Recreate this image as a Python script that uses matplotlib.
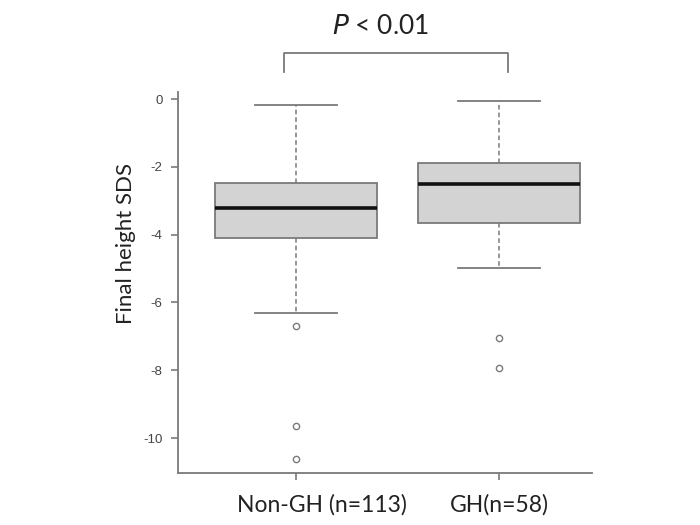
import matplotlib
matplotlib.use("Agg")
import matplotlib.pyplot as plt
from matplotlib.lines import Line2D
from matplotlib.transforms import ScaledTranslation

plt.rcParams['font.family'] = ['Lato', 'DejaVu Sans']

categories = ["Non-GH (n=113)", "GH(n=58)"]
whisker_low = [-6.3, -4.99]
q1 = [-4.11, -3.64]
median = [-3.2, -2.49]
q3 = [-2.48, -1.88]
whisker_high = [-0.18, -0.07]
outliers = [[-6.7, -9.63, -10.62], [-7.04, -7.92]]
yticks = [0, -2, -4, -6, -8, -10]
p_text = " < 0.01"

stats = []
for i, lab in enumerate(categories):
    stats.append(dict(label=lab, whislo=whisker_low[i], q1=q1[i], med=median[i],
                      q3=q3[i], whishi=whisker_high[i], fliers=outliers[i]))

fig = plt.figure(figsize=(7, 5.25), dpi=100)
ax = fig.add_axes([178/700, 1-473/525, 414/700, 381/525])

gray = "#7a7a7a"
ax.bxp(stats, positions=[1, 2], widths=0.8, patch_artist=True,
       boxprops=dict(facecolor="#d3d3d3", edgecolor=gray, linewidth=1.3),
       medianprops=dict(color="#111111", linewidth=2.6),
       whiskerprops=dict(color=gray, linewidth=1.1, linestyle=(0, (3, 2))),
       capprops=dict(color=gray, linewidth=1.3),
       capwidths=0.4,
       flierprops=dict(marker='o', markersize=4.5, markerfacecolor='none',
                       markeredgecolor=gray, markeredgewidth=1.0))

ax.set_xlim(0.419, 2.458)
ax.set_ylim(-11.03, 0.21)
ax.set_yticks(yticks)
ax.set_yticklabels([str(t) for t in yticks], family=['Liberation Sans', 'DejaVu Sans'])
ax.set_xticks([1, 2])
ax.set_xticklabels(categories, fontsize=16.5)
for s in ["top", "right"]:
    ax.spines[s].set_visible(False)
for s in ["left", "bottom"]:
    ax.spines[s].set_color(gray)
    ax.spines[s].set_linewidth(1.3)
ax.tick_params(axis='y', colors=gray, labelcolor="#444444", labelsize=9.5,
               length=5, width=1.2, pad=6)
ax.tick_params(axis='x', colors=gray, labelcolor="#222222", length=5, width=1.2, pad=10)
# first category label sits slightly right of its tick in the reference
lbl0 = ax.get_xticklabels()[0]
lbl0.set_transform(lbl0.get_transform() + ScaledTranslation(26/100, 0, fig.dpi_scale_trans))

ax.set_ylabel("Final height SDS", fontsize=16, color="#222222")
ax.yaxis.set_label_coords((136-178)/414, (473-244)/381)

# significance bracket
bx = [284/700, 284/700, 508/700, 508/700]
by = [1-72/525, 1-53/525, 1-53/525, 1-72/525]
fig.add_artist(Line2D(bx, by, color=gray, linewidth=1.3))
fig.text(380/700, 1-27/525, r"$\mathit{P}$" + p_text,
         ha="center", va="center", fontsize=19, color="#222222")

fig.savefig("out.png", dpi=100)
